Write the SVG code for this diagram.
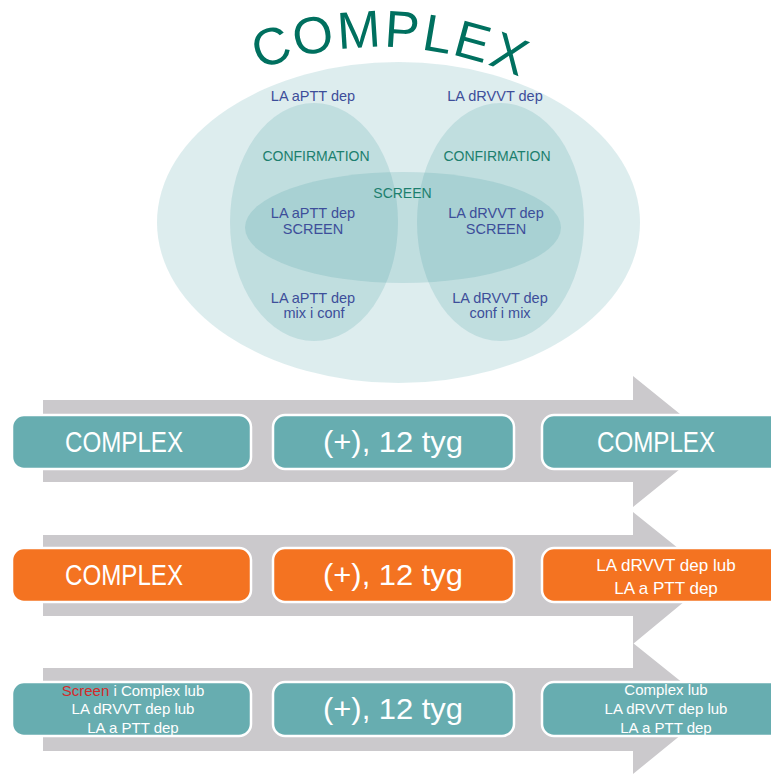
<svg xmlns="http://www.w3.org/2000/svg" width="771" height="774" viewBox="0 0 771 774">
  <style>
    .venn { fill: #2e8f95; fill-opacity: 0.16; }
    .lbl { font-family: "Liberation Sans", Arial, sans-serif; font-size: 14.5px; fill: #3d4e9a; text-anchor: middle; }
    .grn { font-family: "Liberation Sans", Arial, sans-serif; font-size: 14px; fill: #1c7f6e; text-anchor: middle; }
    .ttl { font-family: "Liberation Sans", Arial, sans-serif; font-size: 52px; fill: #00705f; text-anchor: middle; }
    .arrow { fill: #cbc9cc; }
    .box { stroke: #ffffff; stroke-width: 2.5; }
    .teal { fill: #67adb0; }
    .orange { fill: #f47321; }
    .big { font-family: "Liberation Sans", Arial, sans-serif; font-size: 30px; fill: #ffffff; text-anchor: middle; }
    .sm { font-family: "Liberation Sans", Arial, sans-serif; font-size: 15px; fill: #ffffff; text-anchor: middle; }
    .md { font-family: "Liberation Sans", Arial, sans-serif; font-size: 17px; fill: #ffffff; text-anchor: middle; }
  </style>
  <rect width="771" height="774" fill="#ffffff"/>

  <g id="title">
    <text class="ttl" transform="translate(276.3,63.6) rotate(-17.7)">C</text>
    <text class="ttl" transform="translate(316.2,53) rotate(-11)">O</text>
    <text class="ttl" transform="translate(359.9,47.6) rotate(-3.7)">M</text>
    <text class="ttl" transform="translate(401.1,47.7) rotate(3.7)">P</text>
    <text class="ttl" transform="translate(434.9,51.6) rotate(9.6)">L</text>
    <text class="ttl" transform="translate(468,58.9) rotate(15.2)">E</text>
    <text class="ttl" transform="translate(503.1,70.3) rotate(20.75)">X</text>
  </g>

  <g id="venn">
    <ellipse id="complex-set" class="venn" cx="398.5" cy="222.5" rx="241.5" ry="160.5"/>
    <ellipse id="aptt-set" class="venn" cx="314" cy="222" rx="84" ry="119"/>
    <ellipse id="drvvt-set" class="venn" cx="500.5" cy="222" rx="83.5" ry="119"/>
    <ellipse id="screen-set" class="venn" cx="403" cy="227.5" rx="158" ry="55.5"/>
  </g>

  <g id="venn-labels">
    <text class="lbl" x="313" y="101">LA aPTT dep</text>
    <text class="lbl" x="495" y="101">LA dRVVT dep</text>
    <text class="grn" x="316" y="161">CONFIRMATION</text>
    <text class="grn" x="497" y="161">CONFIRMATION</text>
    <text class="grn" x="402.5" y="198">SCREEN</text>
    <text class="lbl" x="313" y="218">LA aPTT dep</text>
    <text class="lbl" x="313" y="234">SCREEN</text>
    <text class="lbl" x="496" y="218">LA dRVVT dep</text>
    <text class="lbl" x="496" y="234">SCREEN</text>
    <text class="lbl" x="313" y="303">LA aPTT dep</text>
    <text class="lbl" x="314" y="318">mix i conf</text>
    <text class="lbl" x="500" y="303">LA dRVVT dep</text>
    <text class="lbl" x="500" y="318">conf i mix</text>
  </g>

  <g id="connectors">
    <polygon id="arrow1" class="arrow" points="43,400 633,400 633,376 714,441.5 633,507 633,482 43,482"/>
    <polygon id="arrow2" class="arrow" points="43,535 633,535 633,512 714,577 633,644 633,616 43,616"/>
    <polygon id="arrow3" class="arrow" points="43,668 633,668 633,643 714,708 633,774 633,751 43,751"/>
  </g>

  <g id="row1-box1">
    <rect class="box teal" x="12" y="415" width="239" height="54" rx="12"/>
    <text class="big" x="124" y="452" textLength="118" lengthAdjust="spacingAndGlyphs">COMPLEX</text>
  </g>
  <g id="row1-box2">
    <rect class="box teal" x="273" y="415" width="241" height="54" rx="12"/>
    <text class="big" x="393" y="452" textLength="140" lengthAdjust="spacingAndGlyphs">(+), 12 tyg</text>
  </g>
  <g id="row1-box3">
    <rect class="box teal" x="542" y="415" width="250" height="54" rx="12"/>
    <text class="big" x="656" y="452" textLength="118" lengthAdjust="spacingAndGlyphs">COMPLEX</text>
  </g>

  <g id="row2-box1">
    <rect class="box orange" x="12" y="548" width="239" height="54" rx="12"/>
    <text class="big" x="124" y="585" textLength="118" lengthAdjust="spacingAndGlyphs">COMPLEX</text>
  </g>
  <g id="row2-box2">
    <rect class="box orange" x="273" y="548" width="241" height="54" rx="12"/>
    <text class="big" x="393" y="585" textLength="140" lengthAdjust="spacingAndGlyphs">(+), 12 tyg</text>
  </g>
  <g id="row2-box3">
    <rect class="box orange" x="542" y="548" width="250" height="54" rx="12"/>
    <text class="md" x="666" y="571">LA dRVVT dep lub</text>
    <text class="md" x="666" y="594">LA a PTT dep</text>
  </g>

  <g id="row3-box1">
    <rect class="box teal" x="12" y="682" width="239" height="54" rx="12"/>
    <text class="sm" x="133" y="696"><tspan fill="#d42a2a">Screen</tspan> i Complex lub</text>
    <text class="sm" x="133" y="714">LA dRVVT dep lub</text>
    <text class="sm" x="133" y="733">LA a PTT dep</text>
  </g>
  <g id="row3-box2">
    <rect class="box teal" x="273" y="682" width="241" height="54" rx="12"/>
    <text class="big" x="393" y="719" textLength="140" lengthAdjust="spacingAndGlyphs">(+), 12 tyg</text>
  </g>
  <g id="row3-box3">
    <rect class="box teal" x="542" y="682" width="250" height="54" rx="12"/>
    <text class="sm" x="666" y="695">Complex lub</text>
    <text class="sm" x="666" y="714">LA dRVVT dep lub</text>
    <text class="sm" x="666" y="733">LA a PTT dep</text>
  </g>
</svg>
